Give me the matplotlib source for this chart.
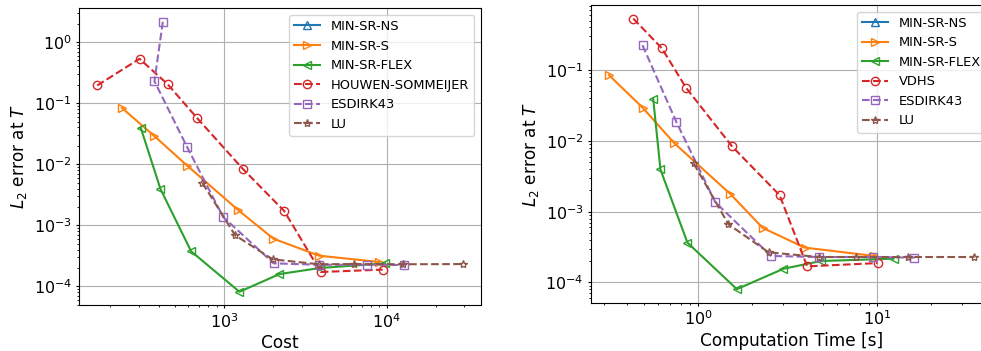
import matplotlib
matplotlib.use("Agg")
import matplotlib.pyplot as plt

# left panel: error vs cost
cost_ns = []  # MIN-SR-NS has a legend entry but no visible points
err_ns = []
cost_mins = [235, 373, 595, 1225, 2010, 3835, 8970]
err_mins = [0.0838, 0.0288, 0.0094, 0.00176, 0.000604, 0.000318, 0.000251]
cost_flex = [307, 406, 627, 1243, 2188, 3890, 9770]
err_flex = [0.0399, 0.00394, 0.000375, 8.15e-5, 0.000159, 0.000200, 0.000238]
cost_vdhs = [166, 302, 449, 686, 1303, 2339, 3929, 9443]
err_vdhs = [0.195, 0.533, 0.205, 0.0561, 0.00838, 0.00172, 0.000172, 0.000188]
cost_esdirk = [420, 373, 593, 986, 2018, 3805, 7530, 12850]
err_esdirk = [2.15, 0.229, 0.019, 0.00137, 0.000238, 0.000226, 0.000226, 0.000224]
cost_lu = [736, 1169, 1991, 3835, 6320, 12530, 29300]
err_lu = [0.00494, 0.000686, 0.000277, 0.000230, 0.000232, 0.000230, 0.000232]

# right panel: error vs computation time
time_ns = []
err_ns_t = []
time_mins = [0.318, 0.494, 0.738, 1.52, 2.30, 3.95, 9.70]
err_mins_t = [0.0849, 0.0289, 0.00925, 0.00177, 0.00059, 0.000311, 0.000237]
time_flex = [0.562, 0.617, 0.873, 1.65, 3.00, 4.86, 12.4]
err_flex_t = [0.0393, 0.00395, 0.000366, 8.05e-5, 0.000156, 0.000201, 0.000217]
time_vdhs = [0.435, 0.628, 0.858, 1.55, 2.86, 4.08, 10.1]
err_vdhs_t = [0.533, 0.203, 0.0562, 0.00838, 0.00171, 0.000169, 0.000188]
time_esdirk = [0.490, 0.757, 1.25, 2.56, 4.75, 9.55, 16.2]
err_esdirk_t = [0.224, 0.0185, 0.00136, 0.000237, 0.000229, 0.000229, 0.000224]
time_lu = [0.946, 1.48, 2.48, 4.75, 7.61, 14.9, 35.1]
err_lu_t = [0.00481, 0.000664, 0.000267, 0.000229, 0.000229, 0.000229, 0.000229]


def draw(ax, series, vdhs_name, xlabel):
    (x_n, y_n), (x_s, y_s), (x_f, y_f), (x_v, y_v), (x_e, y_e), (x_l, y_l) = series
    ax.plot(x_n, y_n, "^-", color="C0", mfc="none", label="MIN-SR-NS")
    ax.plot(x_s, y_s, ">-", color="C1", mfc="none", label="MIN-SR-S")
    ax.plot(x_f, y_f, "<-", color="C2", mfc="none", label="MIN-SR-FLEX")
    ax.plot(x_v, y_v, "o--", color="C3", mfc="none", label=vdhs_name)
    ax.plot(x_e, y_e, "s--", color="C4", mfc="none", label="ESDIRK43")
    ax.plot(x_l, y_l, "*--", color="C5", mfc="none", label="LU")
    ax.set_xscale("log")
    ax.set_yscale("log")
    ax.grid(True)
    ax.set_xlabel(xlabel, fontsize=12.2, labelpad=2.5)
    ax.set_ylabel(r"$L_2$ error at $T$", fontsize=12.2, labelpad=3)
    ax.tick_params(which="major", labelsize=11.5, length=2.5, pad=2.5)
    ax.tick_params(which="minor", length=1.5)
    ax.legend(loc="upper right", fontsize=9.4)


fig = plt.figure(figsize=(9.81, 3.51), dpi=100)
ax1 = fig.add_axes([0.0805, 0.1302, 0.4098, 0.8462])
ax2 = fig.add_axes([0.6021, 0.1376, 0.4098, 0.8481])

draw(ax1, [(cost_ns, err_ns), (cost_mins, err_mins), (cost_flex, err_flex),
           (cost_vdhs, err_vdhs), (cost_esdirk, err_esdirk), (cost_lu, err_lu)],
     "HOUWEN-SOMMEIJER", "Cost")
draw(ax2, [(time_ns, err_ns_t), (time_mins, err_mins_t), (time_flex, err_flex_t),
           (time_vdhs, err_vdhs_t), (time_esdirk, err_esdirk_t), (time_lu, err_lu_t)],
     "VDHS", "Computation Time [s]")

fig.savefig("out.png", dpi=100)
